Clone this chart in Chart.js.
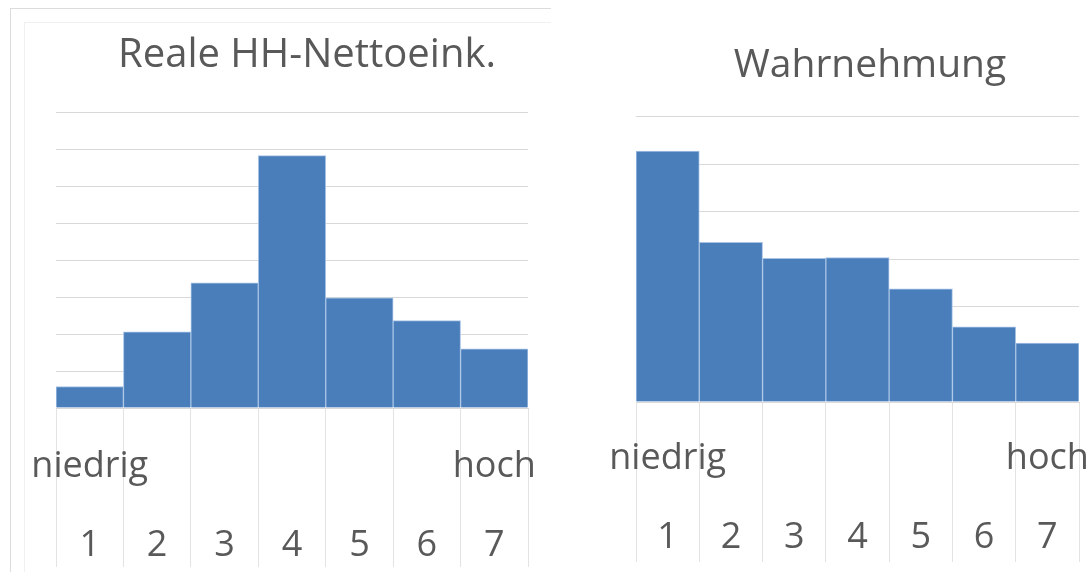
<!DOCTYPE html>
<html lang="de">
<head>
<meta charset="utf-8">
<title>Einkommen: real vs. Wahrnehmung</title>
<script src="https://cdn.jsdelivr.net/npm/chart.js@4/dist/chart.umd.min.js"></script>
<style>
  html, body { margin: 0; padding: 0; background: #fff; overflow: hidden; }
  body { width: 1086px; height: 572px; position: relative; }
  #rahmenLinks {
    position: absolute; left: 10px; top: 8px; width: 540px; height: 580px;
    border-left: 1px solid #dcdcdc; border-top: 1px solid #dcdcdc;
  }
  #rahmenInnen {
    position: absolute; left: 24px; top: 22px; width: 526px; height: 560px;
    border-left: 1px solid #f0f0f0; border-top: 1px solid #f0f0f0;
  }
  #boxLinks { position: absolute; left: 11px; top: 9px; width: 538px; height: 580px; }
  #boxRechts { position: absolute; left: 549px; top: 0; width: 545px; height: 580px; }
</style>
</head>
<body>
<div id="rahmenLinks"></div>
<div id="rahmenInnen"></div>
<div id="boxLinks"><canvas id="grafikReal"></canvas></div>
<div id="boxRechts"><canvas id="grafikWahrnehmung"></canvas></div>

<script>
// Kategorien (Einkommensstufen) und Beschriftung der Enden
const stufen = ["1", "2", "3", "4", "5", "6", "7"];
const enden = ["niedrig", "", "", "", "", "", "hoch"];

// Anteile in Prozent
const realeEinkommen = [2.9, 10.3, 16.9, 34.1, 14.9, 11.8, 8.0];
const wahrnehmung = [26.4, 16.8, 15.1, 15.2, 11.9, 7.9, 6.2];

const schrift = "'Open Sans', 'Noto Sans', sans-serif";
const textFarbe = "#595959";
const gitterFarbe = "#d9d9d9";

function zeichneHistogramm(canvasId, titel, werte, yMax, layout) {
  const ctx = document.getElementById(canvasId).getContext("2d");
  const labels = stufen.map((s, i) => [enden[i], s]);

  return new Chart(ctx, {
    type: "bar",
    data: {
      labels: labels,
      datasets: [{
        data: werte,
        backgroundColor: "#4a7ebb",
        borderColor: "#a7c3e6",
        borderWidth: 1,
        categoryPercentage: 1.0,
        barPercentage: 1.0
      }]
    },
    options: {
      responsive: true,
      maintainAspectRatio: false,
      animation: false,
      layout: { padding: layout.padding },
      plugins: {
        legend: { display: false },
        tooltip: { enabled: false },
        title: {
          display: true,
          text: titel,
          color: textFarbe,
          font: { family: schrift, size: layout.titelGroesse, weight: "normal", lineHeight: 1.2 },
          padding: layout.titelPadding
        }
      },
      scales: {
        x: {
          // Achse so hoch machen, dass die Beschriftung nicht abgeschnitten wird
          afterFit: (scale) => { scale.height = layout.achsenHoehe; },
          grid: {
            display: true,
            offset: true,
            drawOnChartArea: false,
            drawTicks: true,
            tickLength: layout.strichLaenge,
            tickColor: "#e3e3e3",
            lineWidth: 1
          },
          border: { display: true, color: gitterFarbe },
          ticks: {
            autoSkip: false,
            maxRotation: 0,
            minRotation: 0,
            color: textFarbe,
            // negativer Abstand: Beschriftung liegt zwischen den langen Trennstrichen
            padding: layout.labelPadding,
            font: { family: schrift, size: 36, lineHeight: 79 / 36 }
          }
        },
        y: {
          // unsichtbare Achse rechts, damit der Titel etwas nach rechts rueckt
          position: "right",
          afterFit: (scale) => { scale.width = layout.yBreite; },
          min: 0,
          max: yMax,
          ticks: { display: false, stepSize: 5 },
          grid: { color: gitterFarbe, lineWidth: 1, drawTicks: false },
          border: { display: false }
        }
      }
    }
  });
}

zeichneHistogramm("grafikReal", "Reale HH-Nettoeink.", realeEinkommen, 40, {
  padding: { left: 45, right: -9, top: 0, bottom: 6 },
  yBreite: 30,
  titelGroesse: 40,
  titelPadding: { top: 23, bottom: 32 },
  achsenHoehe: 175,
  strichLaenge: 159,
  labelPadding: -140
});

zeichneHistogramm("grafikWahrnehmung", "Wahrnehmung", wahrnehmung, 30, {
  padding: { left: 87, right: -10, top: 0, bottom: 6 },
  yBreite: 25,
  titelGroesse: 39,
  titelPadding: { top: 42, bottom: 28 },
  achsenHoehe: 172,
  strichLaenge: 160,
  labelPadding: -143
});
</script>
</body>
</html>
